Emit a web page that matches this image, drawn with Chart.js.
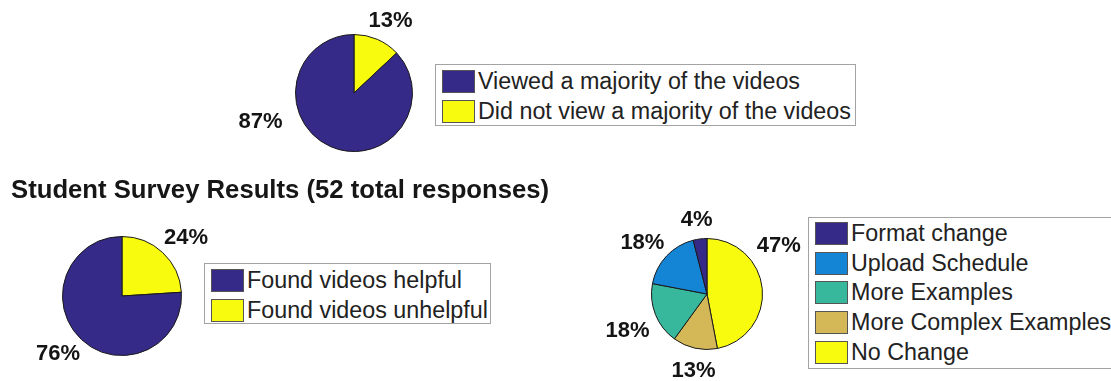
<!DOCTYPE html>
<html>
<head>
<meta charset="utf-8">
<script src="https://cdn.jsdelivr.net/npm/chart.js@4.4.1/dist/chart.umd.min.js"></script>
<style>
  html, body {
    margin: 0;
    padding: 0;
    width: 1111px;
    height: 381px;
    overflow: hidden;
    background: #fff;
    font-family: "Liberation Sans", Arial, Helvetica, sans-serif;
  }
  canvas {
    position: absolute;
  }
  .title {
    position: absolute;
    left: 11px;
    top: 175px;
    font-size: 25.7px;
    font-weight: bold;
    color: #161616;
    white-space: nowrap;
  }
  .legend {
    position: absolute;
    box-sizing: border-box;
    border: 1px solid #a3a3a3;
    background: #fff;
    padding: 1px 0 0 6px;
    color: #222;
    font-size: 23.3px;
    white-space: nowrap;
  }
  .legend .row {
    display: flex;
    align-items: center;
  }
  .legend .swatch {
    box-sizing: border-box;
    width: 33px;
    height: 23px;
    border: 1px solid #555;
    margin-right: 3px;
  }
</style>
</head>
<body>

<canvas id="pieViewed" width="278" height="278"></canvas>
<canvas id="pieHelpful" width="280" height="280"></canvas>
<canvas id="pieChanges" width="272" height="272"></canvas>

<div class="title">Student Survey Results (52 total responses)</div>

<div class="legend" id="legendViewed" style="left:435px; top:64px; width:421px; height:62px;"></div>
<div class="legend" id="legendHelpful" style="left:204px; top:263px; width:287px; height:61px;"></div>
<div class="legend" id="legendChanges" style="left:808px; top:217px; width:320px; height:152px;"></div>

<script>
// Dados (percentuais)
const viewedLabels = ['Viewed a majority of the videos', 'Did not view a majority of the videos'];
const viewedValues = [87, 13];

const helpfulLabels = ['Found videos helpful', 'Found videos unhelpful'];
const helpfulValues = [76, 24];

const changeLabels = ['Format change', 'Upload Schedule', 'More Examples', 'More Complex Examples', 'No Change'];
const changeValues = [4, 18, 18, 13, 47];

// Cores (parula)
const twoColors = ['#352a87', '#f9fb0e'];
const fiveColors = ['#352a87', '#1484d4', '#37b79c', '#d4b857', '#f9fb0e'];

// Labels that were moved by hand in the original figure (angle from top, clockwise; dist in radii)
const viewedNudge = [{ angle: 253, dist: 1.67 }, null];
const helpfulNudge = [null, null];
const changeNudge = [null, null, { angle: 245, dist: 1.58 }, { angle: 190, dist: 1.4 }, { angle: 56, dist: 1.56 }];

// Plugin: percent labels outside each slice (one per chart, nudges kept in the closure)
function makeLabelPlugin(nudges) {
  return {
    id: 'pctLabels',
    afterDatasetsDraw(chart) {
      const ctx = chart.ctx;
      const meta = chart.getDatasetMeta(0);
      const values = chart.data.datasets[0].data;

      ctx.save();
      ctx.font = 'bold 22px "Liberation Sans", Arial, sans-serif';
      ctx.fillStyle = '#141414';
      ctx.textAlign = 'center';
      ctx.textBaseline = 'middle';

      meta.data.forEach((arc, i) => {
        const p = arc.getProps(['x', 'y', 'startAngle', 'endAngle', 'outerRadius'], true);
        const text = values[i] + '%';
        const w = ctx.measureText(text).width;
        const h = 16;
        const nudge = nudges[i];
        let tx, ty;

        if (nudge) {
          const a = nudge.angle * Math.PI / 180 - Math.PI / 2;
          tx = p.x + nudge.dist * p.outerRadius * Math.cos(a);
          ty = p.y + nudge.dist * p.outerRadius * Math.sin(a);
        } else {
          const mid = (p.startAngle + p.endAngle) / 2;
          tx = p.x + (1.2 * p.outerRadius + w / 2) * Math.cos(mid);
          ty = p.y + (1.2 * p.outerRadius + h / 2) * Math.sin(mid);
        }
        ctx.fillText(text, tx, ty);
      });
      ctx.restore();
    }
  };
}

// MATLAB draws slices counterclockwise from 12 o'clock; Chart.js goes clockwise,
// so the slices are fed in reverse order
function makePie(canvasId, cx, cy, r, values, colors, nudges) {
  const canvas = document.getElementById(canvasId);
  const pad = (canvas.width - 2 * r) / 2;
  canvas.style.left = (cx - r - pad) + 'px';
  canvas.style.top = (cy - r - pad) + 'px';

  return new Chart(canvas, {
    type: 'pie',
    data: {
      labels: values.map((v, i) => 'slice' + i).reverse(),
      datasets: [{
        data: values.slice().reverse(),
        backgroundColor: colors.slice().reverse(),
        borderColor: '#1a1a1a',
        borderWidth: 1,
        hoverOffset: 0,
        offset: 0
      }]
    },
    options: {
      responsive: false,
      devicePixelRatio: 1,
      animation: false,
      events: [],
      rotation: 0,
      layout: { padding: pad },
      plugins: {
        legend: { display: false },
        tooltip: { enabled: false }
      }
    },
    plugins: [makeLabelPlugin(nudges.slice().reverse())]
  });
}

// Legenda em caixa estilo MATLAB
function buildLegend(elId, labels, colors, rowHeight) {
  const el = document.getElementById(elId);
  el.innerHTML = '';
  labels.forEach((label, i) => {
    const row = document.createElement('div');
    row.className = 'row';
    row.style.height = rowHeight + 'px';
    row.innerHTML = `<div class="swatch" style="background:${colors[i]}"></div><span>${label}</span>`;
    el.appendChild(row);
  });
}

document.addEventListener('DOMContentLoaded', function() {
  makePie('pieViewed', 354, 93, 59, viewedValues, twoColors, viewedNudge);
  makePie('pieHelpful', 122, 296, 60, helpfulValues, twoColors, helpfulNudge);
  makePie('pieChanges', 707, 294, 56, changeValues, fiveColors, changeNudge);

  buildLegend('legendViewed', viewedLabels, twoColors, 30);
  buildLegend('legendHelpful', helpfulLabels, twoColors, 30);
  buildLegend('legendChanges', changeLabels, fiveColors, 29.6);
});
</script>
</body>
</html>
